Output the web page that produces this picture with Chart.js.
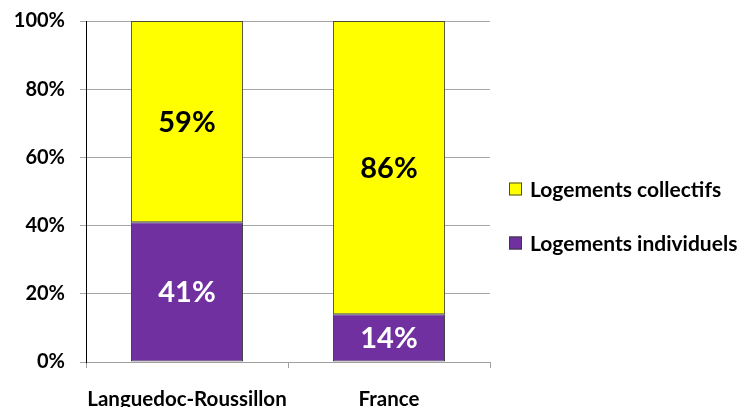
<!DOCTYPE html>
<html>
<head>
<meta charset="utf-8">
<script src="https://cdn.jsdelivr.net/npm/chart.js@4"></script>
<style>
	html, body { margin: 0; padding: 0; background: #fff; }
	#wrap { width: 750px; height: 407px; }
</style>
</head>
<body>
<div id="wrap"><canvas id="chart"></canvas></div>
<script>
const categories = ["Languedoc-Roussillon", "France"];
const individuels = [41, 14];
const collectifs = [59, 86];
const yTicks = [0, 20, 40, 60, 80, 100];

// labels inside the bars
const barLabels = {
	id: "barLabels",
	afterDatasetsDraw(chart) {
		const ctx = chart.ctx;
		ctx.save();
		ctx.font = "bold 29px Lato";
		ctx.textAlign = "center";
		ctx.textBaseline = "middle";
		chart.data.datasets.forEach(function (ds, i) {
			chart.getDatasetMeta(i).data.forEach(function (bar, j) {
				const p = bar.getCenterPoint();
				ctx.fillStyle = ds.labelColor;
				ctx.fillText(ds.data[j] + "%", p.x, p.y + 1);
			});
		});
		ctx.restore();
	},
};

// legend on the right, top entry = last dataset
const sideLegend = {
	id: "sideLegend",
	afterDraw(chart) {
		const ctx = chart.ctx;
		const area = chart.chartArea;
		const items = chart.data.datasets.slice().reverse();
		ctx.save();
		ctx.font = "bold 21px Lato";
		ctx.textBaseline = "middle";
		ctx.textAlign = "left";
		items.forEach(function (ds, k) {
			const x = area.right + 19;
			const y = 189 + k * 54;
			ctx.fillStyle = ds.backgroundColor;
			ctx.fillRect(x, y - 6.5, 13, 13);
			ctx.strokeStyle = ds.borderColor;
			ctx.lineWidth = 1;
			ctx.strokeRect(x + 0.5, y - 6, 12, 12);
			ctx.fillStyle = "#000";
			ctx.fillText(ds.label, x + 21, y + 1);
		});
		ctx.restore();
	},
};

function draw() {
	new Chart(document.getElementById("chart").getContext("2d"), {
		type: "bar",
		data: {
			labels: categories,
			datasets: [
				{
					label: "Logements individuels",
					data: individuels,
					backgroundColor: "#7030a0",
					borderColor: "#3a3a3a",
					borderWidth: 1,
					borderSkipped: false,
					labelColor: "#ffffff",
				},
				{
					label: "Logements collectifs",
					data: collectifs,
					backgroundColor: "#ffff00",
					borderColor: "#4a4a3a",
					borderWidth: 1,
					borderSkipped: false,
					labelColor: "#000000",
				},
			],
		},
		options: {
			responsive: true,
			maintainAspectRatio: false,
			animation: false,
			datasets: {
				bar: { categoryPercentage: 1, barPercentage: 0.555 },
			},
			layout: { padding: { left: 0, top: 21, right: 260, bottom: 0 } },
			plugins: {
				tooltip: { enabled: false },
				legend: { display: false },
			},
			scales: {
				x: {
					stacked: true,
					afterFit(scale) {
						scale.height = 45;
						scale.paddingLeft = 0;
						scale.paddingRight = 0;
					},
					grid: { display: true, drawOnChartArea: false, drawTicks: true, tickLength: 6, color: "#a0a0a0", offset: true },
					border: { color: "#a0a0a0" },
					ticks: {
						font: { family: "Lato", weight: "bold", size: 20.5 },
						color: "#000",
						padding: 19,
						maxRotation: 0,
						minRotation: 0,
						autoSkip: false,
					},
				},
				y: {
					stacked: true,
					min: 0,
					max: 100,
					afterFit(scale) {
						scale.width = 86;
						scale.paddingTop = 0;
						scale.paddingBottom = 0;
					},
					afterBuildTicks(axis) {
						axis.ticks = yTicks.map(function (v) { return { value: v }; });
					},
					grid: { color: "#a6a6a6", tickLength: 6 },
					border: { color: "#000" },
					ticks: {
						font: { family: "Lato", weight: "bold", size: 20 },
						color: "#000",
						padding: 15,
						callback: function (v) { return v + "%"; },
					},
				},
			},
		},
		plugins: [barLabels, sideLegend],
	});
}

document.fonts.load("bold 20px Lato").then(draw, draw);
</script>
</body>
</html>
